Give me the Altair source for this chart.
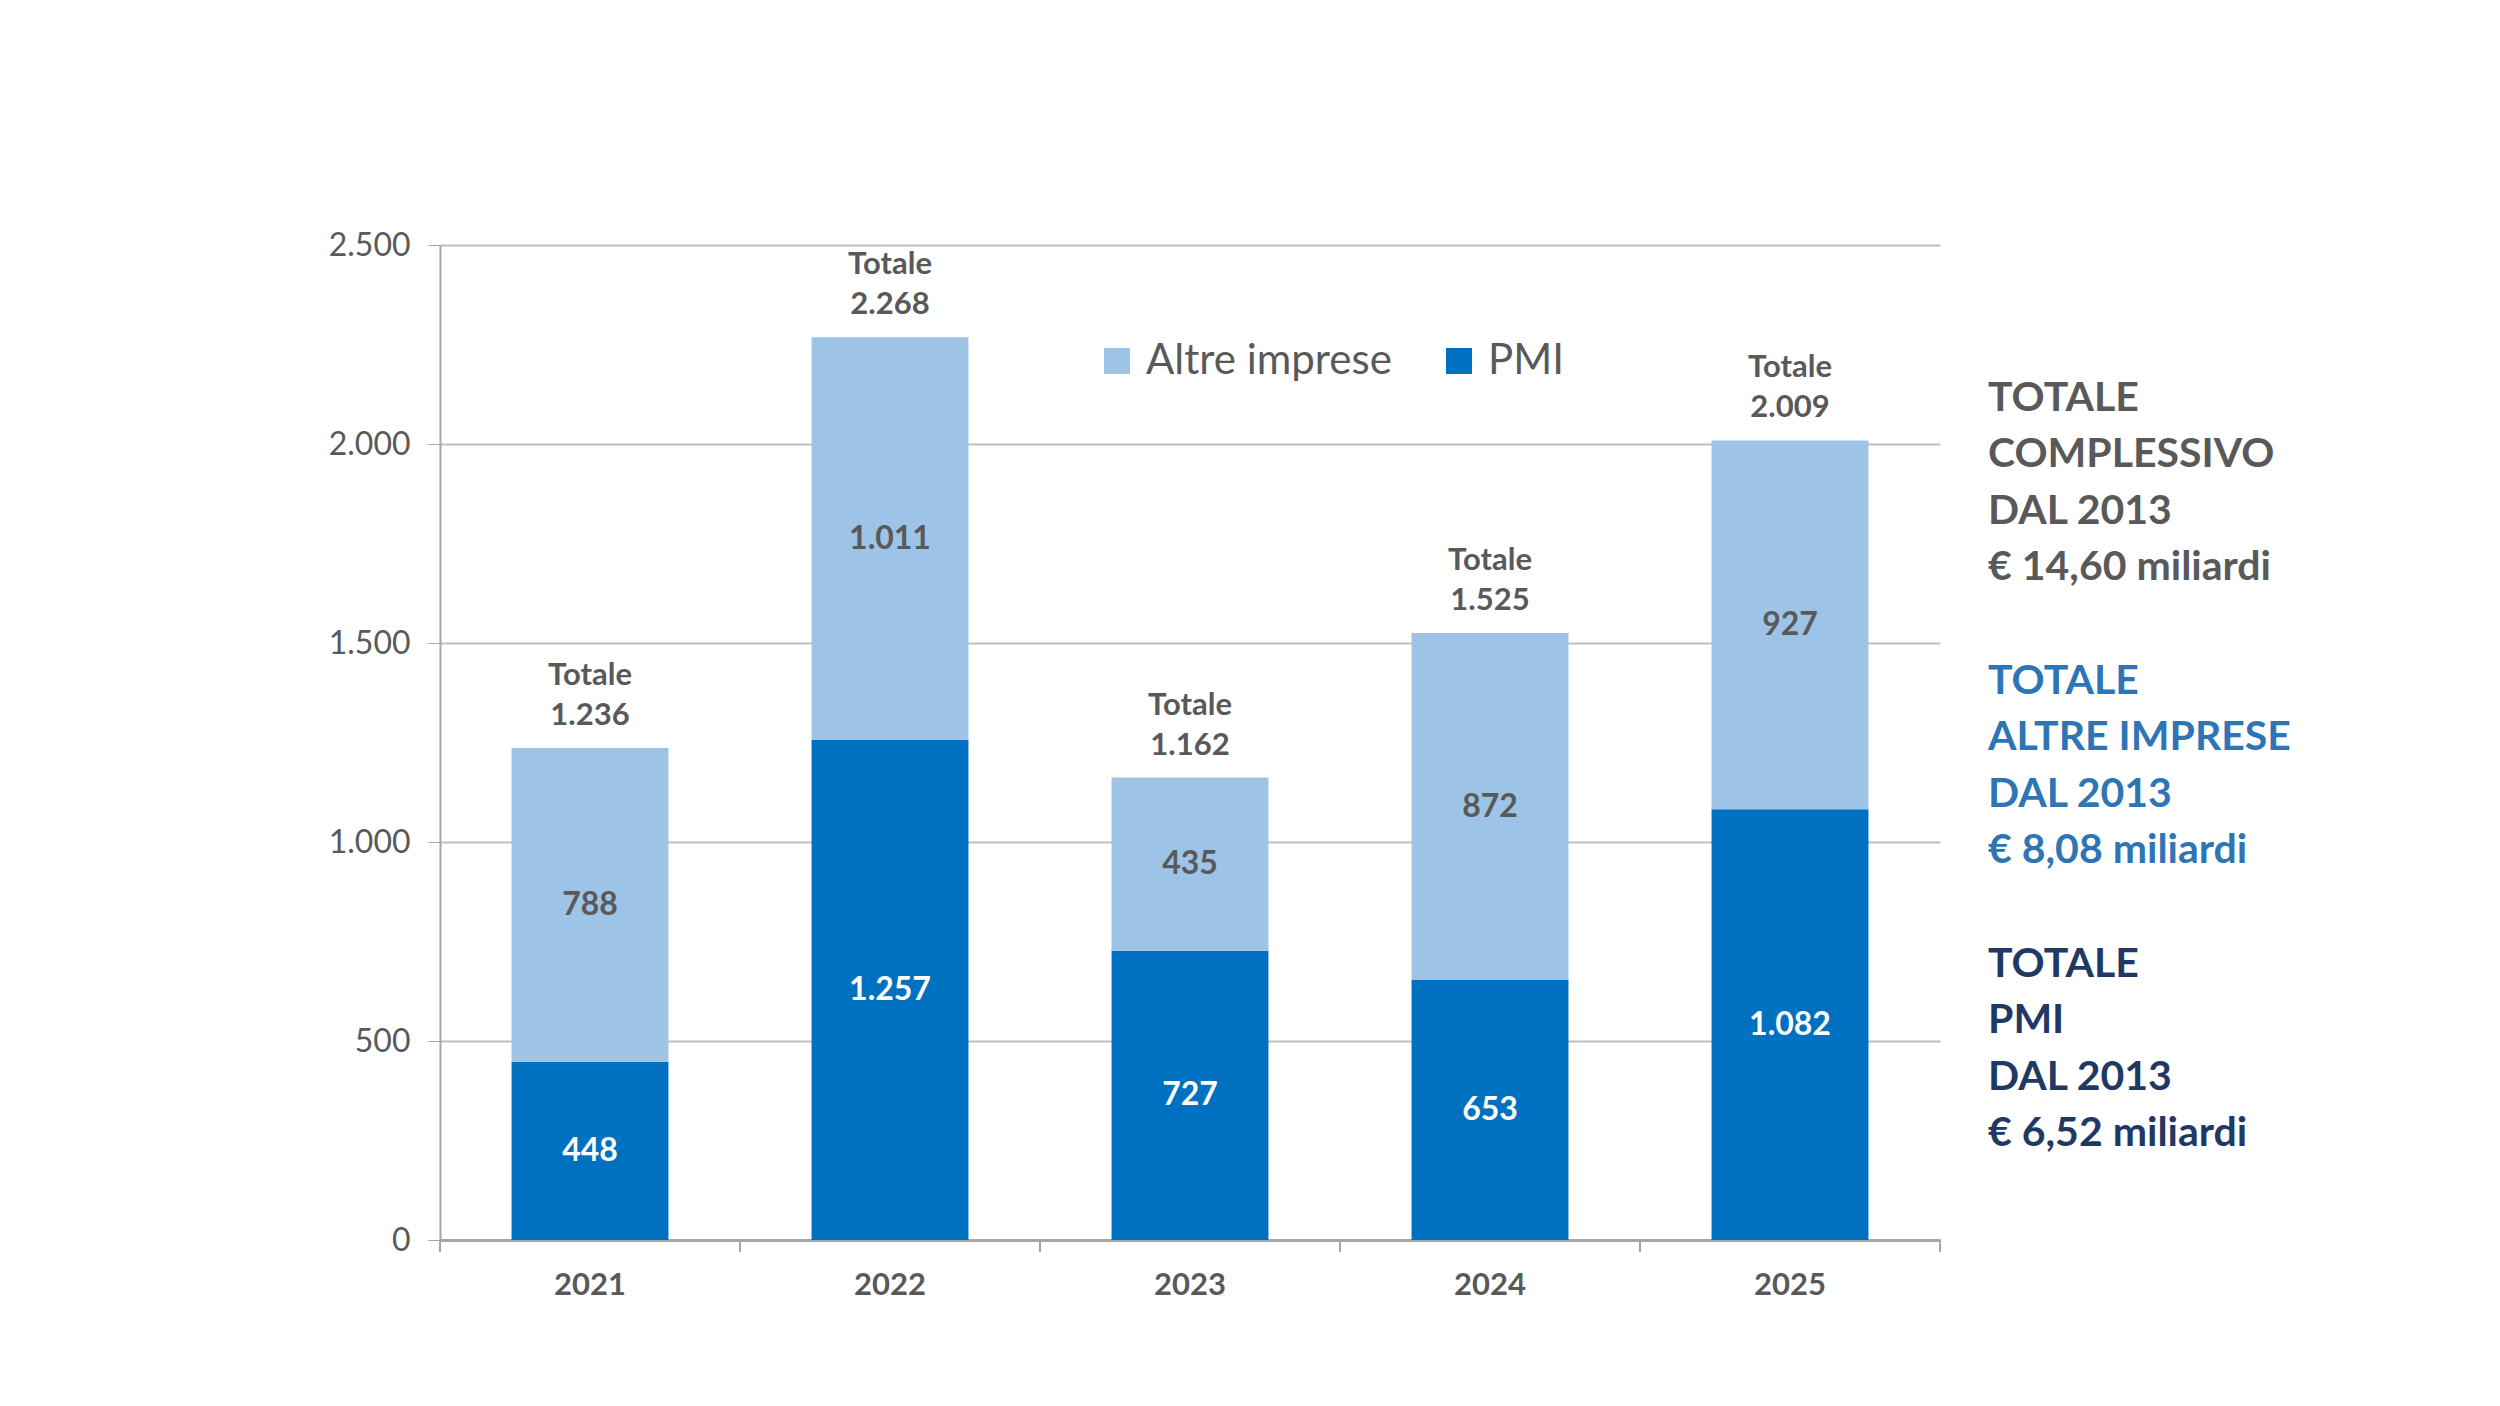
import altair as alt
import pandas as pd

years = ["2021", "2022", "2023", "2024", "2025"]
pmi = [448, 1257, 727, 653, 1082]
altre = [788, 1011, 435, 872, 927]
totals = [1236, 2268, 1162, 1525, 2009]
y_ticks = [0, 500, 1000, 1500, 2000, 2500]
series_names = ["Altre imprese", "PMI"]
series_colors = ["#9DC3E6", "#0070C0"]

side_blocks = [
    (["TOTALE", "COMPLESSIVO", "DAL 2013", "€ 14,60 miliardi"], "#595959"),
    (["TOTALE", "ALTRE IMPRESE", "DAL 2013", "€ 8,08 miliardi"], "#2E75B6"),
    (["TOTALE", "PMI", "DAL 2013", "€ 6,52 miliardi"], "#1F3864"),
]

FONT = "Lato"
GRAY = "#595959"
PAD_IN = 0.477
STEP = 300
HALF_GAP = PAD_IN * STEP / 2


def fmt(v):
    return f"{v:,}".replace(",", ".")


rows = []
for i, yr in enumerate(years):
    rows.append(dict(year=yr, series="PMI", value=pmi[i], ord=0,
                     mid=pmi[i] / 2, label=fmt(pmi[i])))
    rows.append(dict(year=yr, series="Altre imprese", value=altre[i], ord=1,
                     mid=pmi[i] + altre[i] / 2, label=fmt(altre[i])))
df = pd.DataFrame(rows)
tot = pd.DataFrame({"year": years, "total": totals,
                    "label": ["Totale\n" + fmt(t) for t in totals]})

xscale = alt.Scale(domain=years, paddingInner=PAD_IN, paddingOuter=PAD_IN / 2)
yscale = alt.Scale(domain=[0, 2500])

x_enc = alt.X("year:N", scale=xscale, title=None,
              axis=alt.Axis(labelFont=FONT, labelFontSize=31, labelFontWeight="bold",
                            labelColor=GRAY, labelPadding=30, ticks=False,
                            domainColor="#A6A6A6", domainWidth=3, grid=False,
                            labelAngle=0))

bars = alt.Chart(df).mark_bar().encode(
    x=x_enc,
    y=alt.Y("value:Q", stack="zero", scale=yscale, title=None,
            axis=alt.Axis(values=y_ticks, labelExpr="replace(format(datum.value, ','), ',', '.')",
                          labelFont=FONT, labelFontSize=32, labelColor=GRAY,
                          labelPadding=18, tickSize=12, tickColor="#A6A6A6",
                          domainColor="#A6A6A6", domainWidth=2,
                          gridColor="#BFBFBF", gridWidth=2)),
    color=alt.Color("series:N", scale=alt.Scale(domain=series_names, range=series_colors),
                    legend=alt.Legend(orient="none", legendX=656, legendY=95,
                                      direction="horizontal", title=None,
                                      symbolType="square", symbolSize=676,
                                      symbolStrokeWidth=0, labelLimit=0,
                                      labelFont=FONT, labelFontSize=42, labelColor=GRAY,
                                      columnPadding=46, labelOffset=8)),
    order=alt.Order("ord:Q", sort="ascending"),
)

seg_labels = alt.Chart(df).mark_text(font=FONT, fontSize=32, fontWeight="bold",
                                     baseline="middle").encode(
    x=x_enc,
    y=alt.Y("mid:Q", scale=yscale, title=None),
    text="label:N",
    color=alt.condition(alt.datum.series == "PMI", alt.value("white"), alt.value(GRAY)),
)

tot_labels = alt.Chart(tot).mark_text(font=FONT, fontSize=31, fontWeight="bold",
                                      baseline="bottom", lineBreak="\n", lineHeight=40,
                                      dy=-56, color=GRAY).encode(
    x=x_enc,
    y=alt.Y("total:Q", scale=yscale, title=None),
    text="label:N",
)

ticks = alt.Chart(tot).mark_rule(color="#A6A6A6", strokeWidth=2, xOffset=-HALF_GAP).encode(
    x=alt.X("year:N", scale=xscale, bandPosition=0, title=None),
    y=alt.value(995), y2=alt.value(1007),
)
last_tick = alt.Chart(tot.tail(1)).mark_rule(color="#A6A6A6", strokeWidth=2, xOffset=HALF_GAP).encode(
    x=alt.X("year:N", scale=xscale, bandPosition=1, title=None),
    y=alt.value(995), y2=alt.value(1007),
)

side_layers = []
y_pos = [154, 210, 267, 323, 437, 493, 550, 606, 720, 776, 833, 889]
k = 0
for lines, col in side_blocks:
    for line in lines:
        side_layers.append(
            alt.Chart(pd.DataFrame({"t": [line]})).mark_text(
                font=FONT, fontSize=41, fontWeight="bold", align="left",
                baseline="middle", color=col).encode(
                x=alt.value(1548), y=alt.value(y_pos[k]), text="t:N")
        )
        k += 1

chart = alt.layer(bars, seg_labels, tot_labels, ticks, last_tick, *side_layers).properties(
    width=1500, height=995,
    padding={"left": 432, "top": 237, "right": 520, "bottom": 150},
    autosize=alt.AutoSizeParams(type="none"),
).configure(background="white").configure_view(stroke="transparent", strokeWidth=0)

chart.save("out.html", embed_options={"renderer": "svg", "actions": False})
